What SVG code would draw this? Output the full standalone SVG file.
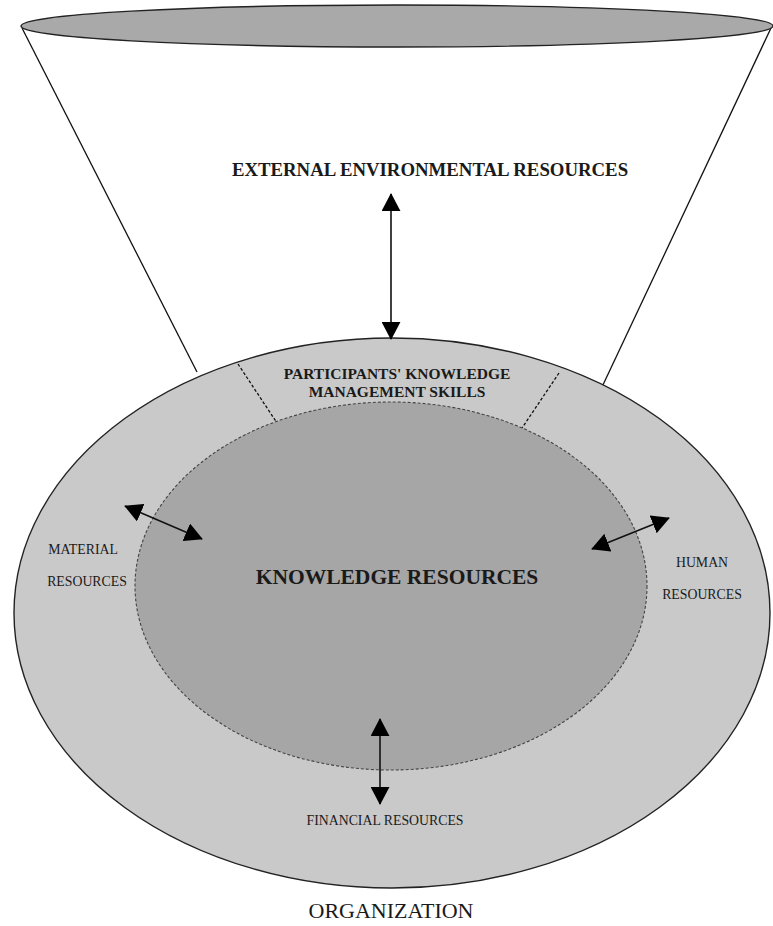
<svg xmlns="http://www.w3.org/2000/svg" width="773" height="926" viewBox="0 0 773 926">
  <style>
    .edge { stroke: #111; stroke-width: 1.3; fill: none; }
    .link { stroke: #111; stroke-width: 1.6; fill: none; marker-start: url(#head); marker-end: url(#head); }
    .bold { font-family: "Liberation Serif", "Times New Roman", serif; font-weight: bold; fill: #1a1a1a; text-anchor: middle; }
    .plain { font-family: "Liberation Serif", "Times New Roman", serif; fill: #1a1a1a; text-anchor: middle; }
  </style>
  <defs>
    <marker id="head" viewBox="0 0 10 10" preserveAspectRatio="none" refX="9.5" refY="5" markerWidth="18" markerHeight="19" markerUnits="userSpaceOnUse" orient="auto-start-reverse">
      <path d="M0,0 L10,5 L0,10 Z" fill="#000"/>
    </marker>
  </defs>

  <rect width="773" height="926" fill="#fff"/>

  <!-- environment funnel -->
  <g id="environment">
    <line class="edge" x1="22" y1="28" x2="197" y2="372"/>
    <line class="edge" x1="771" y1="28" x2="602" y2="387"/>
    <ellipse cx="397" cy="26" rx="376" ry="21" fill="#a9a9a9" stroke="#222" stroke-width="1.4"/>
    <text class="bold" x="430" y="176" font-size="18.8">EXTERNAL ENVIRONMENTAL RESOURCES</text>
  </g>

  <!-- organization ring -->
  <g id="organization">
    <ellipse cx="392" cy="613" rx="378" ry="275" fill="#c9c9c9" stroke="#222" stroke-width="1.4"/>
    <text class="plain" x="391" y="918" font-size="22">ORGANIZATION</text>
  </g>

  <!-- skills segment dividers -->
  <g id="skills">
    <line class="edge" x1="238" y1="364" x2="279" y2="426" stroke-dasharray="3,2"/>
    <line class="edge" x1="559" y1="373" x2="520" y2="431" stroke-dasharray="3,2"/>
    <text class="bold" x="397" y="379" font-size="15.5">PARTICIPANTS' KNOWLEDGE</text>
    <text class="bold" x="397" y="397" font-size="15.5">MANAGEMENT SKILLS</text>
  </g>

  <!-- knowledge core -->
  <g id="knowledge">
    <ellipse cx="391" cy="586" rx="256" ry="184" fill="#a6a6a6" stroke="#444" stroke-width="1.1" stroke-dasharray="3,2"/>
    <text class="bold" x="397" y="584" font-size="21.5">KNOWLEDGE RESOURCES</text>
  </g>

  <g id="material">
    <text class="plain" x="83" y="554" font-size="13.8">MATERIAL</text>
    <text class="plain" x="87" y="586" font-size="13.8">RESOURCES</text>
  </g>

  <g id="human">
    <text class="plain" x="702" y="567" font-size="13.8">HUMAN</text>
    <text class="plain" x="702" y="599" font-size="13.8">RESOURCES</text>
  </g>

  <g id="financial">
    <text class="plain" x="385" y="825" font-size="13.8">FINANCIAL RESOURCES</text>
  </g>

  <!-- exchange arrows -->
  <g id="connectors">
    <line class="link" x1="391" y1="194" x2="391" y2="339"/>
    <line class="link" x1="125" y1="506" x2="202" y2="539"/>
    <line class="link" x1="592" y1="549" x2="669" y2="518"/>
    <line class="link" x1="380" y1="719" x2="380" y2="804"/>
  </g>
</svg>
